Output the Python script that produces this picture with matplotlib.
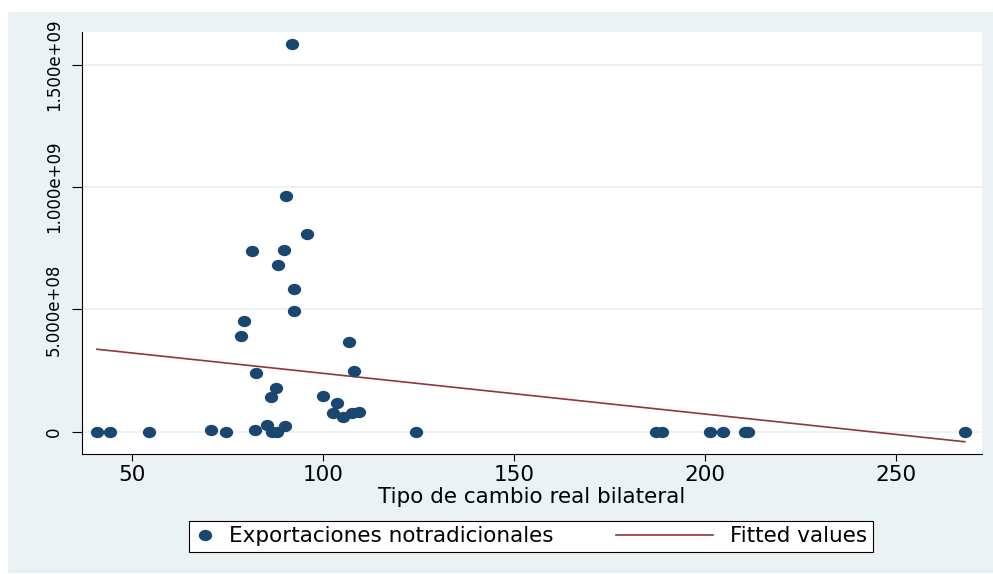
import numpy as np
import matplotlib
matplotlib.use('Agg')
import matplotlib.pyplot as plt
from matplotlib.path import Path
from matplotlib.transforms import Affine2D
from matplotlib.patches import Rectangle
from matplotlib.legend_handler import HandlerLine2D

# tipo de cambio real bilateral vs exportaciones no tradicionales
tcrb = [40.9, 44.3, 54.4, 70.8, 74.6, 82.3, 85.3, 86.6, 88.0, 90.1,
        124.3, 187.2, 188.7, 201.4, 204.7, 210.5, 211.3, 268.1,
        92.0, 90.4, 95.9, 81.5, 89.9, 88.2, 92.4, 92.4, 79.3, 78.5,
        106.9, 82.5, 108.3, 87.8, 86.4, 100.0, 103.8, 102.8, 105.4, 107.6, 109.6]
expo = [0, 0, 0, 7e6, 0, 9e6, 2.7e7, 0, 0, 2.3e7,
        0, 0, 0, 0, 0, 0, 0, 0,
        1.584e9, 9.63e8, 8.08e8, 7.38e8, 7.42e8, 6.80e8, 5.82e8, 4.92e8, 4.53e8, 3.91e8,
        3.66e8, 2.39e8, 2.49e8, 1.77e8, 1.43e8, 1.44e8, 1.16e8, 7.8e7, 6.1e7, 7.5e7, 8.2e7]

# fitted values at the ends of the x range
fit_x = [40.9, 268.1]
fit_y = [3.37e8, -4.1e7]

xticks = [50, 100, 150, 200, 250]
yticks = [0, 5e8, 1e9, 1.5e9]
ytick_labels = ['0', '5.000e+08', '1.000e+09', '1.500e+09']

NAVY = '#1a476f'
MAROON = '#90353b'
BG = '#eaf2f3'

plt.rcParams['font.family'] = ['DejaVu Sans']

W, H = 993, 574
fig = plt.figure(figsize=(W / 100, H / 100), dpi=100, facecolor='white')
fig.patches.append(Rectangle((8 / W, 1 - 573 / H), 985 / W, 561 / H,
                             transform=fig.transFigure, facecolor=BG,
                             edgecolor='none', zorder=-10))

ax = fig.add_axes([81.7 / W, 1 - 454 / H, 900 / W, 422 / H])
ax.set_facecolor('white')

ell = Affine2D().scale(1, 0.85).transform_path(Path.unit_circle())
pts = ax.scatter(tcrb, expo, s=92, marker=ell, color=NAVY, linewidths=0,
                 zorder=3, label='Exportaciones notradicionales')
fl, = ax.plot(fit_x, fit_y, color=MAROON, lw=1.2, zorder=2, label='Fitted values')

ax.set_xlim(36.9, 272.5)
ax.set_ylim(-9.1e7, 1.633e9)
ax.set_xticks(xticks)
ax.set_yticks(yticks)
ax.set_yticklabels(ytick_labels, rotation=90, va='center')
ax.yaxis.grid(True, color=BG, lw=1.4)
ax.set_axisbelow(True)

for s in ('top', 'right'):
    ax.spines[s].set_visible(False)
for s in ('left', 'bottom'):
    ax.spines[s].set_linewidth(0.8)
    ax.spines[s].set_color('black')

ax.tick_params(axis='x', length=5, width=0.8, pad=3, labelsize=15.5)
ax.tick_params(axis='y', length=7.2, width=0.8, pad=6.5, labelsize=12)

ax.set_xlabel('Tipo de cambio real bilateral', fontsize=15.5, va='top')
ax.xaxis.set_label_coords(0.5, -(487 - 454) / 422)


class LongLine(HandlerLine2D):
    # stata draws the fitted-values key longer than the marker key
    def get_xdata(self, legend, xdescent, ydescent, width, height, fontsize):
        xd = np.array([-xdescent - 3.7 * width, -xdescent + 0.8 * width])
        return xd, xd


leg = fig.legend(handles=[pts, fl], loc='center',
                 bbox_to_anchor=(531 / W, 1 - 536.2 / H),
                 ncol=2, fontsize=15.5, frameon=True, fancybox=False,
                 edgecolor='black', framealpha=1, borderpad=0.25,
                 handlelength=1.0, handletextpad=0.6, columnspacing=6.6,
                 scatterpoints=1, scatteryoffsets=[0.5],
                 handler_map={fl: LongLine()})
leg.get_frame().set_linewidth(0.8)

fig.savefig('out.png', dpi=100, facecolor='white')
